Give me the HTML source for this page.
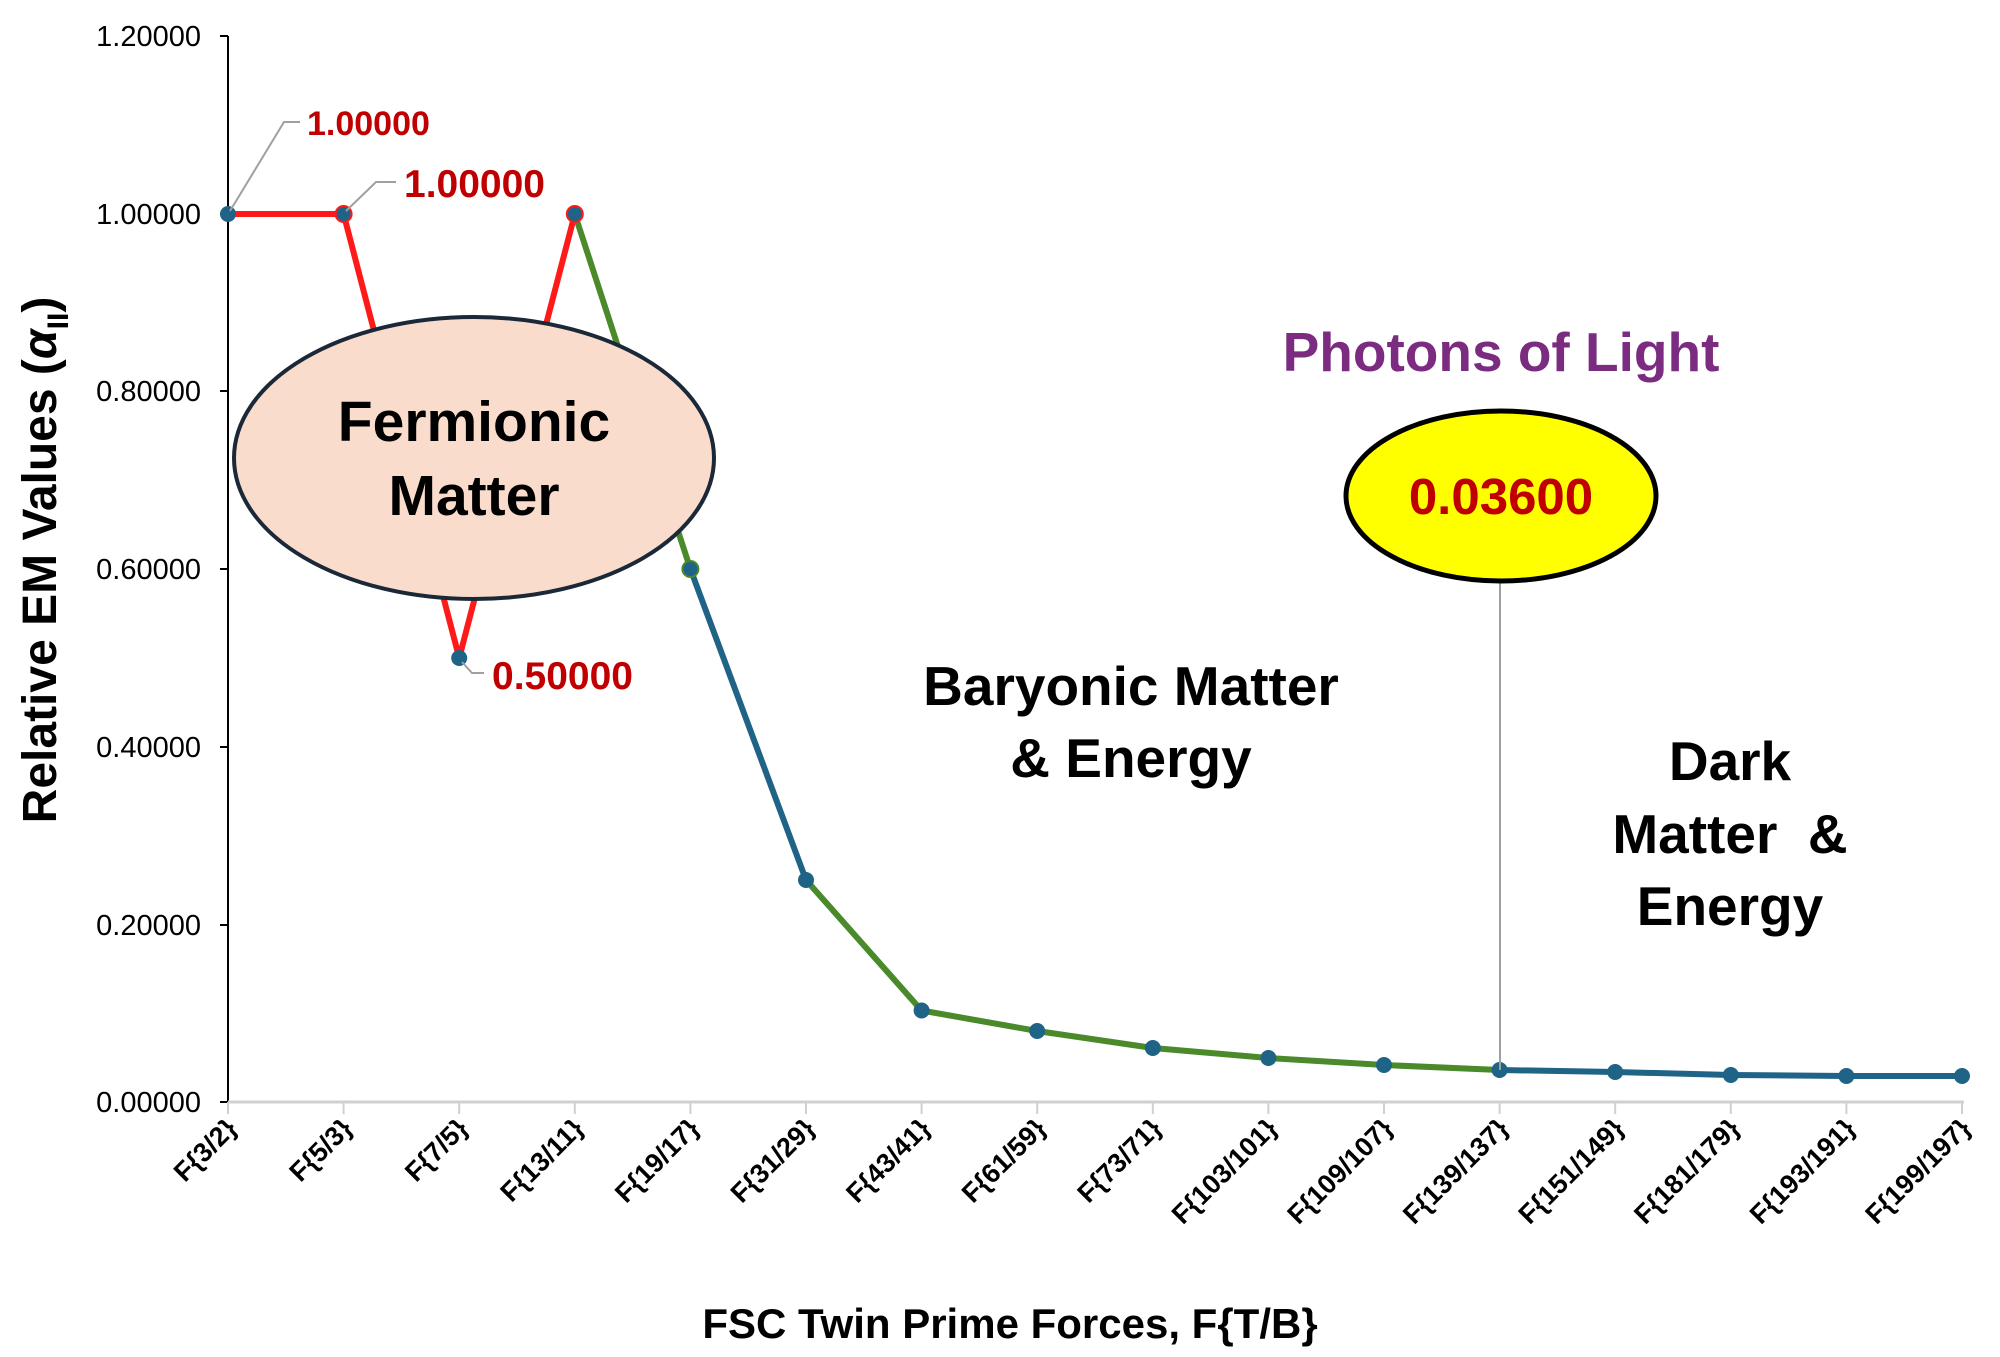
<!DOCTYPE html>
<html><head><meta charset="utf-8"><style>
html,body{margin:0;padding:0;background:#fff;}
svg{display:block;font-family:"Liberation Sans",Arial,sans-serif;}
</style></head><body>
<svg width="2000" height="1357" viewBox="0 0 2000 1357" xmlns="http://www.w3.org/2000/svg">
<!-- axes -->
<line x1="228" y1="36" x2="228" y2="1102" stroke="#000" stroke-width="2"/>
<line x1="228" y1="1102" x2="1964" y2="1102" stroke="#d0d0d0" stroke-width="3"/>
<g stroke="#000" stroke-width="2">
<line x1="220" y1="36" x2="228" y2="36"/><line x1="220" y1="214" x2="228" y2="214"/>
<line x1="220" y1="391" x2="228" y2="391"/><line x1="220" y1="569" x2="228" y2="569"/>
<line x1="220" y1="747" x2="228" y2="747"/><line x1="220" y1="925" x2="228" y2="925"/>
<line x1="220" y1="1102" x2="228" y2="1102"/>
</g>
<g stroke="#d0d0d0" stroke-width="2">
<line x1="228" y1="1102" x2="228" y2="1114"/><line x1="343.6" y1="1102" x2="343.6" y2="1114"/><line x1="459.2" y1="1102" x2="459.2" y2="1114"/><line x1="574.8" y1="1102" x2="574.8" y2="1114"/><line x1="690.4" y1="1102" x2="690.4" y2="1114"/><line x1="806" y1="1102" x2="806" y2="1114"/><line x1="921.6" y1="1102" x2="921.6" y2="1114"/><line x1="1037.2" y1="1102" x2="1037.2" y2="1114"/><line x1="1152.8" y1="1102" x2="1152.8" y2="1114"/><line x1="1268.4" y1="1102" x2="1268.4" y2="1114"/><line x1="1384" y1="1102" x2="1384" y2="1114"/><line x1="1499.6" y1="1102" x2="1499.6" y2="1114"/><line x1="1615.2" y1="1102" x2="1615.2" y2="1114"/><line x1="1730.8" y1="1102" x2="1730.8" y2="1114"/><line x1="1846.4" y1="1102" x2="1846.4" y2="1114"/><line x1="1962" y1="1102" x2="1962" y2="1114"/>
</g>
<g font-size="29" text-anchor="end" fill="#000">
<text x="201" y="46">1.20000</text><text x="201" y="224">1.00000</text><text x="201" y="401">0.80000</text>
<text x="201" y="579">0.60000</text><text x="201" y="757">0.40000</text><text x="201" y="935">0.20000</text><text x="201" y="1112">0.00000</text>
</g>
<!-- y title -->
<text transform="translate(56,560) rotate(-90)" text-anchor="middle" font-size="48" font-weight="bold">Relative EM Values (<tspan font-style="italic">α</tspan><tspan font-size="30" dy="12">II</tspan><tspan dy="-12">)</tspan></text>
<!-- x labels -->
<g font-size="27" font-weight="bold" text-anchor="end">
<text transform="translate(238,1130) rotate(-45)">F{3/2}</text>
<text transform="translate(353.6,1130) rotate(-45)">F{5/3}</text>
<text transform="translate(469.2,1130) rotate(-45)">F{7/5}</text>
<text transform="translate(584.8,1130) rotate(-45)">F{13/11}</text>
<text transform="translate(700.4,1130) rotate(-45)">F{19/17}</text>
<text transform="translate(816,1130) rotate(-45)">F{31/29}</text>
<text transform="translate(931.6,1130) rotate(-45)">F{43/41}</text>
<text transform="translate(1047.2,1130) rotate(-45)">F{61/59}</text>
<text transform="translate(1162.8,1130) rotate(-45)">F{73/71}</text>
<text transform="translate(1278.4,1130) rotate(-45)">F{103/101}</text>
<text transform="translate(1394,1130) rotate(-45)">F{109/107}</text>
<text transform="translate(1509.6,1130) rotate(-45)">F{139/137}</text>
<text transform="translate(1625.2,1130) rotate(-45)">F{151/149}</text>
<text transform="translate(1740.8,1130) rotate(-45)">F{181/179}</text>
<text transform="translate(1856.4,1130) rotate(-45)">F{193/191}</text>
<text transform="translate(1972,1130) rotate(-45)">F{199/197}</text>
</g>
<text x="1010" y="1338" text-anchor="middle" font-size="42" font-weight="bold">FSC Twin Prime Forces, F{T/B}</text>
<!-- series -->
<polyline points="228,214 343.6,214 459.2,658 574.8,214" fill="none" stroke="#ff1a1a" stroke-width="6" stroke-linejoin="round"/>
<polyline points="574.8,214 690.4,569" fill="none" stroke="#4a8a2a" stroke-width="6"/>
<polyline points="690.4,569 806,880" fill="none" stroke="#1f6387" stroke-width="6"/>
<polyline points="806,880 921.6,1010.5 1037.2,1031 1152.8,1048 1268.4,1058 1384,1065 1499.6,1070" fill="none" stroke="#4a8a2a" stroke-width="6" stroke-linejoin="round"/>
<polyline points="1499.6,1070 1615.2,1072 1730.8,1075 1846.4,1076 1962,1076" fill="none" stroke="#1f6387" stroke-width="6" stroke-linejoin="round"/>
<g fill="#1f6387">
<circle cx="228" cy="214" r="8"/><circle cx="343.6" cy="214" r="8" stroke="#ff1a1a" stroke-width="2"/><circle cx="459.2" cy="658" r="8"/><circle cx="574.8" cy="214" r="8" stroke="#ff1a1a" stroke-width="2"/>
<circle cx="690.4" cy="569" r="8" stroke="#4a8a2a" stroke-width="2"/><circle cx="806" cy="880" r="8"/><circle cx="921.6" cy="1010.5" r="8"/><circle cx="1037.2" cy="1031" r="8"/><circle cx="1152.8" cy="1048" r="8"/><circle cx="1268.4" cy="1058" r="8"/><circle cx="1384" cy="1065" r="8"/><circle cx="1499.6" cy="1070" r="8"/><circle cx="1615.2" cy="1072" r="8"/><circle cx="1730.8" cy="1075" r="8"/><circle cx="1846.4" cy="1076" r="8"/><circle cx="1962" cy="1076" r="8"/>
</g>
<!-- data labels -->
<g stroke="#a0a0a0" stroke-width="2" fill="none">
<polyline points="230,211 284,122 300,122"/>
<polyline points="346,211 376,182 396,182"/>
<polyline points="462,662 472,673 484,673"/>
</g>
<g fill="#c00000" font-weight="bold">
<text x="307" y="135" font-size="34">1.00000</text>
<text x="404" y="197" font-size="39">1.00000</text>
<text x="492" y="689" font-size="39">0.50000</text>
</g>
<!-- fermionic ellipse -->
<ellipse cx="474" cy="458" rx="240" ry="141" fill="#fadccd" stroke="#1a2838" stroke-width="4"/>
<g font-size="57" font-weight="bold" text-anchor="middle">
<text x="474" y="441">Fermionic</text><text x="474" y="515">Matter</text>
</g>
<!-- photons -->
<line x1="1500" y1="578" x2="1500" y2="1070" stroke="#a0a0a0" stroke-width="2"/>
<ellipse cx="1509" cy="496" rx="155" ry="85" fill="#ffff00" stroke="#000" stroke-width="5" transform="translate(-8,0)"/>
<text x="1501" y="514" text-anchor="middle" font-size="51" font-weight="bold" fill="#c00000">0.03600</text>
<text x="1501" y="371" text-anchor="middle" font-size="55" font-weight="bold" fill="#7b2c80">Photons of Light</text>
<g font-size="55" font-weight="bold" text-anchor="middle">
<text x="1131" y="705">Baryonic Matter</text><text x="1131" y="777">&amp; Energy</text>
<text x="1730" y="780">Dark</text><text x="1730" y="853" xml:space="preserve">Matter  &amp;</text><text x="1730" y="925">Energy</text>
</g>
</svg>
</body></html>
